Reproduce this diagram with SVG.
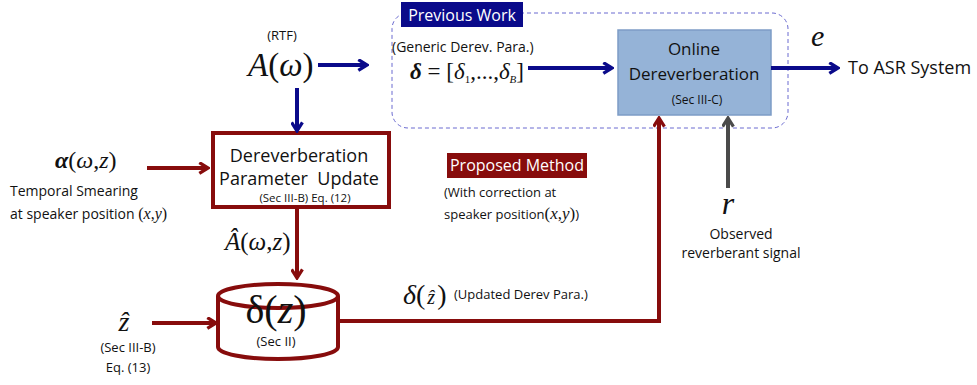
<svg xmlns="http://www.w3.org/2000/svg" width="977" height="385" viewBox="0 0 977 385">
<style>
.s{font-family:"Open Sans","Liberation Sans",sans-serif;fill:#111}
.m{font-family:"Liberation Serif","Times New Roman",serif;fill:#111}
.w{fill:#fff}
.b{stroke:#0a0a8a;stroke-width:4;fill:none}
.r{stroke:#870c0c;stroke-width:4;fill:none}
.g{stroke:#4a4a4a;stroke-width:4;fill:none}
</style>
<defs>
<marker id="ab" viewBox="0 0 12 12" refX="10" refY="6" markerWidth="13" markerHeight="13" markerUnits="userSpaceOnUse" orient="auto"><path d="M2,1 L10,6 L2,11" fill="none" stroke="#0a0a8a" stroke-width="3"/></marker>
<marker id="ar" viewBox="0 0 12 12" refX="10" refY="6" markerWidth="13" markerHeight="13" markerUnits="userSpaceOnUse" orient="auto"><path d="M2,1 L10,6 L2,11" fill="none" stroke="#870c0c" stroke-width="3"/></marker>
<marker id="ag" viewBox="0 0 12 12" refX="10" refY="6" markerWidth="13" markerHeight="13" markerUnits="userSpaceOnUse" orient="auto"><path d="M2,1 L10,6 L2,11" fill="none" stroke="#4a4a4a" stroke-width="3"/></marker>
</defs>
<rect width="977" height="385" fill="#fff"/>
<g id="previous-work">
<rect x="392" y="13" width="396" height="115" rx="16" fill="none" stroke="#6a6ad0" stroke-width="1" stroke-dasharray="4,3"/>
<rect x="401" y="2" width="122" height="25" fill="#0a0a8a"/>
<text x="462" y="21" class="s w" font-size="16" text-anchor="middle">Previous Work</text>
</g>
<g id="online">
<rect x="618" y="30" width="153" height="85" fill="#95b3d7" stroke="#7d9cc6" stroke-width="1.5"/>
<text x="694" y="55" class="s" font-size="17" text-anchor="middle">Online</text>
<text x="694" y="80" class="s" font-size="17" text-anchor="middle">Dereverberation</text>
<text x="697" y="104" class="s" font-size="12" text-anchor="middle">(Sec III-C)</text>
</g>
<g id="update">
<rect x="213" y="133" width="176" height="74" fill="#fff" stroke="#870c0c" stroke-width="4"/>
<text x="299" y="162" class="s" font-size="18" text-anchor="middle">Dereverberation</text>
<text x="299" y="185" class="s" font-size="18" text-anchor="middle" xml:space="preserve">Parameter  Update</text>
<text x="305" y="202" class="s" font-size="11.5" text-anchor="middle">(Sec III-B) Eq. (12)</text>
</g>
<g id="database">
<path d="M218,296 L218,347 A60,12 0 0 0 338,347 L338,296" fill="#fff" stroke="#870c0c" stroke-width="4"/>
<ellipse cx="278" cy="296" rx="60" ry="12" fill="#fff" stroke="#870c0c" stroke-width="4"/>
<text x="276" y="323" class="m" font-size="40" text-anchor="middle">δ(<tspan font-style="italic">z</tspan>)</text>
<text x="276" y="346" class="s" font-size="13" text-anchor="middle">(Sec II)</text>
</g>
<g id="proposed">
<rect x="447" y="153" width="140" height="25" fill="#870c0c"/>
<text x="517" y="171" class="s w" font-size="16" text-anchor="middle">Proposed Method</text>
<text x="444" y="197" class="s" font-size="13">(With correction at</text>
<text x="444" y="219" class="s" font-size="13">speaker position<tspan class="m" font-size="17">(<tspan font-style="italic">x</tspan>,<tspan font-style="italic">y</tspan>)</tspan>)</text>
</g>
<g id="labels">
<text x="282" y="40" class="s" font-size="13" text-anchor="middle">(RTF)</text>
<text x="248" y="76" class="m" font-size="33"><tspan font-style="italic">A</tspan>(<tspan font-style="italic">ω</tspan>)</text>
<text x="392" y="52" class="s" font-size="14">(Generic Derev. Para.)</text>
<text x="410" y="79" class="m" font-size="23"><tspan font-weight="bold" font-style="italic">δ</tspan> = [<tspan font-style="italic">δ</tspan><tspan font-size="11" dy="4">1</tspan><tspan dy="-4">,...,</tspan><tspan font-style="italic">δ</tspan><tspan font-size="11" font-style="italic" dy="4">B</tspan><tspan dy="-4">]</tspan></text>
<text x="811" y="46" class="m" font-size="30" font-style="italic">e</text>
<text x="848" y="74" class="s" font-size="18">To ASR System</text>
<text x="55" y="168" class="m" font-size="24"><tspan font-weight="bold" font-style="italic">α</tspan>(<tspan font-style="italic">ω</tspan>,<tspan font-style="italic">z</tspan>)</text>
<text x="10" y="196" class="s" font-size="14">Temporal Smearing</text>
<text x="10" y="219" class="s" font-size="14">at speaker position <tspan class="m" font-size="16">(<tspan font-style="italic">x</tspan>,<tspan font-style="italic">y</tspan>)</tspan></text>
<text x="225" y="250" class="m" font-size="25"><tspan font-style="italic">Â</tspan>(<tspan font-style="italic">ω</tspan>,<tspan font-style="italic">z</tspan>)</text>
<text x="124" y="331" class="m" font-size="28" font-style="italic" text-anchor="middle">ẑ</text>
<text x="128" y="352" class="s" font-size="13" text-anchor="middle">(Sec III-B)</text>
<text x="128" y="372" class="s" font-size="13" text-anchor="middle">Eq. (13)</text>
<text x="403" y="304" class="m" font-size="28"><tspan font-style="italic">δ</tspan>(<tspan font-style="italic" font-size="20" dx="2">ẑ</tspan><tspan dx="2">)</tspan></text>
<text x="454" y="299" class="s" font-size="13">(Updated Derev Para.)</text>
<text x="728" y="214" class="m" font-size="32" font-style="italic" text-anchor="middle">r</text>
<text x="741" y="239" class="s" font-size="14" text-anchor="middle">Observed</text>
<text x="741" y="258" class="s" font-size="14" text-anchor="middle">reverberant signal</text>
</g>
<g id="connectors">
<line x1="318" y1="65" x2="367" y2="65" class="b" marker-end="url(#ab)"/>
<line x1="528" y1="68" x2="612" y2="68" class="b" marker-end="url(#ab)"/>
<line x1="771" y1="68" x2="838" y2="68" class="b" marker-end="url(#ab)"/>
<line x1="297" y1="88" x2="297" y2="131" class="b" marker-end="url(#ab)"/>
<line x1="147" y1="168" x2="208" y2="168" class="r" marker-end="url(#ar)"/>
<line x1="297" y1="209" x2="297" y2="278" class="r" marker-end="url(#ar)"/>
<line x1="152" y1="323" x2="216" y2="323" class="r" marker-end="url(#ar)"/>
<polyline points="340,321 659,321 659,118" class="r" marker-end="url(#ar)"/>
<line x1="728" y1="188" x2="728" y2="118" class="g" marker-end="url(#ag)"/>
</g>
</svg>
